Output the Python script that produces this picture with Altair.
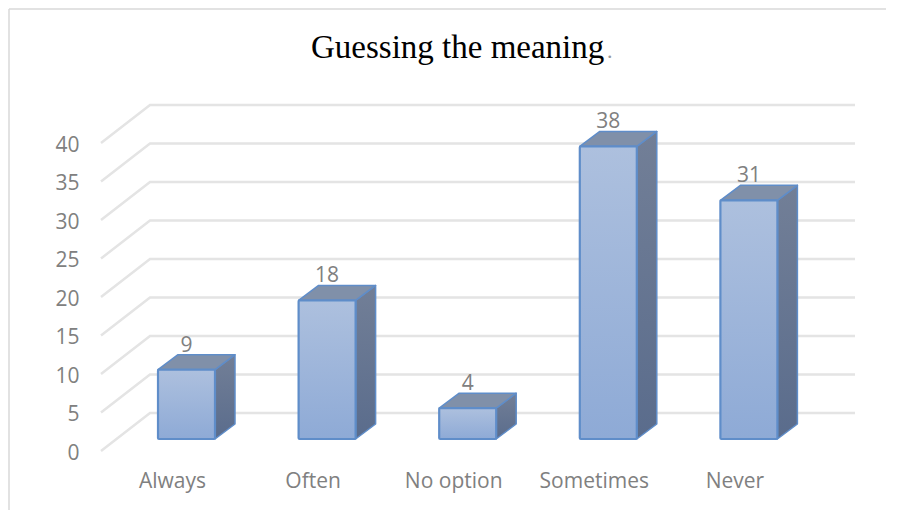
import json

import altair as alt
import pandas as pd

# Survey responses
categories = ["Always", "Often", "No option", "Sometimes", "Never"]
responses = [9, 18, 4, 38, 31]
tick_values = [0, 5, 10, 15, 20, 25, 30, 35, 40]
chart_title = "Guessing the meaning"

# Pseudo-3D projection, in data units (1 category = 140.6 px, 1 response = 7.7 px)
PX_X = 140.6
PX_Y = 7.7
BAR_SHIFT = 14.5 / PX_X
BAR_HALF = 28.5 / PX_X
DEPTH_X = 20 / PX_X
DEPTH_Y = 15 / PX_Y
WALL_LEFT = (150 - 172) / PX_X
WALL_RIGHT = (855 - 172) / PX_X
WALL_RISE = 26 / PX_Y
FLOOR_X = 49 / PX_X
FLOOR_Y = 38 / PX_Y

x_scale = alt.Scale(domain=[-172 / PX_X, (902 - 172) / PX_X], nice=False, zero=False)
y_scale = alt.Scale(domain=[-71 / PX_Y, 439 / PX_Y], nice=False, zero=False)

bars = pd.DataFrame({"cat": categories, "value": responses, "pos": range(len(categories))})
bars["x0"] = bars["pos"] + BAR_SHIFT - BAR_HALF
bars["x1"] = bars["pos"] + BAR_SHIFT + BAR_HALF
bars["base"] = 0
bars["xm"] = bars["pos"] + BAR_SHIFT
bars["label_y"] = bars["value"] + 24 / PX_Y

# Outline of each bar's right side, as an area between bottom and top edges
side_rows = []
top_rows = []
for _, b in bars.iterrows():
    side_rows += [
        {"cat": b["cat"], "x": b["x1"], "lo": 0.0, "hi": b["value"]},
        {"cat": b["cat"], "x": b["x1"] + DEPTH_X, "lo": DEPTH_Y, "hi": b["value"] + DEPTH_Y},
    ]
    top_rows += [
        {"cat": b["cat"], "y": b["value"], "xa": b["x0"], "xb": b["x1"]},
        {"cat": b["cat"], "y": b["value"] + DEPTH_Y, "xa": b["x0"] + DEPTH_X, "xb": b["x1"] + DEPTH_X},
    ]
sides = pd.DataFrame(side_rows)
tops = pd.DataFrame(top_rows)

# Gridlines: a sloped floor segment joined to a horizontal line on the back wall
grid_rows = []
for t in tick_values:
    back = t + WALL_RISE
    grid_rows += [
        {"tick": t, "order": 0, "x": WALL_LEFT - FLOOR_X, "y": back - FLOOR_Y},
        {"tick": t, "order": 1, "x": WALL_LEFT, "y": back},
        {"tick": t, "order": 2, "x": WALL_RIGHT, "y": back},
    ]
grid = pd.DataFrame(grid_rows)

x_axis = alt.Axis(
    values=list(range(len(categories))),
    labelExpr=f"{json.dumps(categories)}[datum.value]",
    title=None,
    domain=False,
    ticks=False,
    grid=False,
    offset=-50,
    labelPadding=10,
    labelFont="Open Sans",
    labelFontSize=21,
    labelColor="#808080",
    labelAlign="center",
    labelFlush=False,
    labelOverlap=False,
)
y_axis = alt.Axis(
    values=tick_values,
    title=None,
    domain=False,
    ticks=False,
    grid=False,
    offset=-84,
    labelPadding=5,
    labelOffset=14,
    labelFont="Open Sans",
    labelFontSize=21,
    labelColor="#808080",
    labelFlush=False,
    labelOverlap=False,
)

frame = alt.Chart(pd.DataFrame({"a": [0]}))
border_left = frame.mark_rule(color="#d9d9d9", strokeWidth=1.5).encode(
    x=alt.value(9), y=alt.value(9), y2=alt.value(510)
)
border_top = frame.mark_rule(color="#d9d9d9", strokeWidth=1.5).encode(
    x=alt.value(9), x2=alt.value(886), y=alt.value(9)
)

gridlines = alt.Chart(grid).mark_line(color="#e4e4e4", strokeWidth=2.5).encode(
    x=alt.X("x:Q", scale=x_scale, axis=x_axis),
    y=alt.Y("y:Q", scale=y_scale, axis=y_axis),
    detail="tick:N",
    order="order:Q",
)

edge = "#5f8dc9"

front = alt.Chart(bars).mark_rect(
    color=alt.Gradient(
        gradient="linear",
        x1=0, y1=0, x2=0, y2=1,
        stops=[
            alt.GradientStop(offset=0, color="#adc0de"),
            alt.GradientStop(offset=1, color="#8eaad6"),
        ],
    ),
    stroke=edge,
    strokeWidth=2.2,
    cornerRadius=1,
).encode(
    x=alt.X("x0:Q", scale=x_scale, axis=x_axis),
    x2="x1:Q",
    y=alt.Y("value:Q", scale=y_scale, axis=y_axis),
    y2="base:Q",
)

side = alt.Chart(sides).mark_area(
    orient="vertical",
    color=alt.Gradient(
        gradient="linear",
        x1=0, y1=0, x2=0, y2=1,
        stops=[
            alt.GradientStop(offset=0, color="#727f97"),
            alt.GradientStop(offset=1, color="#5a6c8c"),
        ],
    ),
    stroke=edge,
    strokeWidth=1.5,
    strokeJoin="round",
).encode(
    x=alt.X("x:Q", scale=x_scale, axis=x_axis),
    y=alt.Y("lo:Q", scale=y_scale, axis=y_axis),
    y2="hi:Q",
    detail="cat:N",
)

top = alt.Chart(tops).mark_area(
    orient="horizontal",
    color="#8090a9",
    stroke=edge,
    strokeWidth=1.5,
    strokeJoin="round",
).encode(
    y=alt.Y("y:Q", scale=y_scale, axis=y_axis),
    x=alt.X("xa:Q", scale=x_scale, axis=x_axis),
    x2="xb:Q",
    detail="cat:N",
)

value_labels = alt.Chart(bars).mark_text(
    font="Open Sans", fontSize=21, color="#808080", baseline="middle", align="center"
).encode(
    x=alt.X("xm:Q", scale=x_scale, axis=x_axis),
    y=alt.Y("label_y:Q", scale=y_scale, axis=y_axis),
    text="value:Q",
)

title_main = frame.mark_text(
    font="Liberation Serif", fontSize=33, color="#000000", align="left", baseline="alphabetic"
).encode(x=alt.value(311), y=alt.value(58), text=alt.value(chart_title))
title_stop = frame.mark_text(
    font="Liberation Serif", fontSize=22, color="#999999", align="left", baseline="alphabetic"
).encode(x=alt.value(607), y=alt.value(58), text=alt.value("."))

chart = (
    alt.layer(
        border_left, border_top, gridlines, side, top, front, value_labels, title_main, title_stop
    )
    .properties(
        width=902,
        height=510,
        padding=0,
        autosize=alt.AutoSizeParams(type="none"),
        background="#ffffff",
    )
    .configure_view(stroke=None)
)

chart.save("out.html", embed_options={"renderer": "svg", "actions": False})
